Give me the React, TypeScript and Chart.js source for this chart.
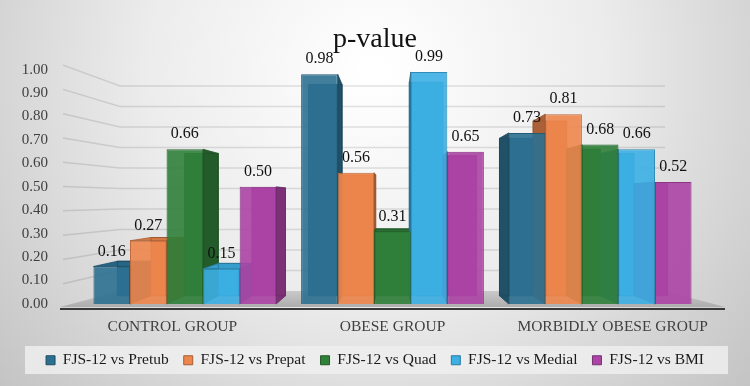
import { useEffect, useRef } from "react";
import { Chart, registerables } from "chart.js";

Chart.register(...registerables);

// ---- data ----
const groups = ["CONTROL GROUP", "OBESE GROUP", "MORBIDLY OBESE GROUP"];
const seriesNames = [
  "FJS-12 vs Pretub",
  "FJS-12 vs Prepat",
  "FJS-12 vs Quad",
  "FJS-12 vs Medial",
  "FJS-12 vs BMI",
];
const pretub = [0.16, 0.98, 0.73];
const prepat = [0.27, 0.56, 0.81];
const quad = [0.66, 0.31, 0.68];
const medial = [0.15, 0.99, 0.66];
const bmi = [0.5, 0.65, 0.52];
const seriesValues = [pretub, prepat, quad, medial, bmi];
const seriesRgb: number[][] = [
  [44, 112, 145],
  [237, 134, 76],
  [48, 128, 58],
  [60, 175, 228],
  [172, 68, 165],
];
const yMin = 0;
const yMax = 1;
const yStep = 0.1;

// ---- styling helpers ----
const SERIF = '"Liberation Serif", "Times New Roman", serif';
const DEPTH = 0.08; // how far a bar's back face recedes toward the vanishing point
const WALL = 0.875; // back wall scale relative to the plot rectangle

const rgb = (c: number[], f = 1, a = 1) =>
  `rgba(${c.map((v) => Math.max(0, Math.min(255, Math.round(v * f)))).join(",")},${a})`;

function vanishing(chart: any) {
  const a = chart.chartArea;
  return { vx: (a.left + a.right) / 2, vy: a.top + 0.56 * (a.bottom - a.top) };
}

const stagePlugin = {
  id: "stage3d",
  beforeDraw(chart: any) {
    const { ctx, width, height } = chart;
    ctx.save();
    const g = ctx.createRadialGradient(width / 2, 70, 10, width / 2, 70, 560);
    g.addColorStop(0, "#ffffff");
    g.addColorStop(0.4, "#ececec");
    g.addColorStop(1, "#b9b9b9");
    ctx.fillStyle = g;
    ctx.fillRect(0, 0, width, height);

    // legend panel
    const lg = chart.legend;
    if (lg) {
      ctx.fillStyle = "rgba(238,238,238,0.85)";
      ctx.fillRect(25, lg.top + 8.5, width - 47, 28);
    }
    ctx.restore();
  },
  beforeDatasetsDraw(chart: any) {
    const { ctx, chartArea: a, scales } = chart;
    const y = scales.y;
    const { vx, vy } = vanishing(chart);
    const backX = (x: number) => vx + (x - vx) * WALL;
    const backY = (yy: number) => vy + (yy - vy) * WALL;
    const y0 = y.getPixelForValue(0);

    ctx.save();
    // grid lines on the back wall and the left side wall
    ctx.strokeStyle = "rgba(0,0,0,0.11)";
    ctx.lineWidth = 1.5;
    for (let k = 1; k * yStep <= yMax + 1e-9; k++) {
      const v = k * yStep;
      const py = y.getPixelForValue(v);
      const by = backY(py);
      const fy = py + 4 - 8.5 * v;
      ctx.beginPath();
      ctx.moveTo(a.left - 18, fy);
      ctx.lineTo(backX(a.left), by);
      ctx.lineTo(backX(a.right), by);
      ctx.stroke();
    }

    // floor
    const fl = a.left - 21;
    const fr = a.right + 21;
    const ff = y0 + 3;
    const fb = backY(y0);
    const fg = ctx.createLinearGradient(0, fb, 0, ff);
    fg.addColorStop(0, "#c9c9c9");
    fg.addColorStop(1, "#adadad");
    ctx.fillStyle = fg;
    ctx.beginPath();
    ctx.moveTo(fl, ff);
    ctx.lineTo(fr, ff);
    ctx.lineTo(backX(a.right), fb);
    ctx.lineTo(backX(a.left), fb);
    ctx.closePath();
    ctx.fill();

    // axis line along the front of the floor
    ctx.strokeStyle = "#383838";
    ctx.lineWidth = 2.2;
    ctx.beginPath();
    ctx.moveTo(fl, y0 + 5);
    ctx.lineTo(fr, y0 + 5);
    ctx.stroke();

    // back, side and top faces of every bar (fronts are drawn by Chart.js)
    const bk = (px: number, py: number) => [px + (vx - px) * DEPTH, py + (vy - py) * DEPTH];
    chart.data.datasets.forEach((ds: any, i: number) => {
      const meta = chart.getDatasetMeta(i);
      if (meta.hidden) return;
      const c = seriesRgb[i];
      meta.data.forEach((bar: any) => {
        const { x, y: top, base, width } = bar.getProps(["x", "y", "base", "width"], true);
        const x0 = x - width / 2;
        const x1 = x + width / 2;
        const [bx0, bt] = bk(x0, top);
        const [bx1] = bk(x1, top);
        const [, bb] = bk(x0, base);
        // back face
        ctx.fillStyle = rgb(c, 0.9);
        ctx.fillRect(bx0, bt, bx1 - bx0, bb - bt);
        // side face
        const sx = x < vx ? x1 : x0;
        const [sbx, sbt] = bk(sx, top);
        const [, sbb] = bk(sx, base);
        ctx.fillStyle = rgb(c, 0.72);
        ctx.beginPath();
        ctx.moveTo(sx, top);
        ctx.lineTo(sbx, sbt);
        ctx.lineTo(sbx, sbb);
        ctx.lineTo(sx, base);
        ctx.closePath();
        ctx.fill();
        ctx.strokeStyle = rgb(c, 0.6, 0.8);
        ctx.lineWidth = 1;
        ctx.stroke();
        // top face, visible only below the eye line
        if (top > vy) {
          const [tx0, tt0] = bk(x0, top);
          const [tx1, tt1] = bk(x1, top);
          ctx.fillStyle = rgb(c, 0.9);
          ctx.beginPath();
          ctx.moveTo(x0, top);
          ctx.lineTo(x1, top);
          ctx.lineTo(tx1, tt1);
          ctx.lineTo(tx0, tt0);
          ctx.closePath();
          ctx.fill();
          ctx.strokeStyle = rgb(c, 0.7, 0.8);
          ctx.stroke();
        }
        // back edges, seen through the glassy front
        ctx.strokeStyle = rgb(c, 0.65, 0.8);
        ctx.lineWidth = 1;
        ctx.strokeRect(bx0, bt, bx1 - bx0, bb - bt);
      });
    });
    ctx.restore();
  },
  afterDatasetsDraw(chart: any) {
    const { ctx, chartArea: a, scales } = chart;
    const { vx } = vanishing(chart);
    ctx.save();
    // value labels
    ctx.font = `16px ${SERIF}`;
    ctx.fillStyle = "#111111";
    ctx.textAlign = "center";
    ctx.textBaseline = "middle";
    chart.data.datasets.forEach((ds: any, i: number) => {
      const meta = chart.getDatasetMeta(i);
      if (meta.hidden) return;
      meta.data.forEach((bar: any, j: number) => {
        const v = ds.data[j] as number;
        ctx.fillText(v.toFixed(2), bar.x, bar.y - 15);
      });
    });
    // category labels along the front edge of the floor
    ctx.font = `15.5px ${SERIF}`;
    ctx.fillStyle = "#404040";
    const xs = scales.x;
    chart.data.labels.forEach((lab: string, j: number) => {
      const px = xs.getPixelForValue(j);
      ctx.fillText(lab, vx + (px - vx) * 1.06, a.bottom + 23);
    });
    ctx.restore();
  },
};

export default function App() {
  const ref = useRef<HTMLCanvasElement | null>(null);

  useEffect(() => {
    document.body.style.margin = "0";
    const canvas = ref.current;
    if (!canvas) return;
    const chart = new Chart(canvas, {
      type: "bar",
      data: {
        labels: groups,
        datasets: seriesNames.map((name, i) => ({
          label: name,
          data: seriesValues[i],
          backgroundColor: rgb(seriesRgb[i], 1, 0.9),
          borderColor: rgb(seriesRgb[i], 0.8),
          borderWidth: 1,
          barPercentage: 1,
          categoryPercentage: 0.88,
        })),
      },
      options: {
        responsive: false,
        animation: false,
        layout: { padding: { top: 6, left: 0, right: 0, bottom: 8 } },
        plugins: {
          title: {
            display: true,
            text: "p-value",
            color: "#111111",
            font: { family: SERIF, size: 28, weight: "normal" },
            padding: { top: 17, bottom: 13 },
          },
          legend: {
            position: "bottom",
            labels: {
              color: "#1a1a1a",
              font: { family: SERIF, size: 15.5 },
              boxWidth: 9,
              boxHeight: 9,
              padding: 15,
              generateLabels: (ch: any) =>
                ch.data.datasets.map((ds: any, i: number) => ({
                  text: ds.label,
                  fillStyle: rgb(seriesRgb[i]),
                  strokeStyle: rgb(seriesRgb[i], 0.7),
                  lineWidth: 1,
                  hidden: !ch.isDatasetVisible(i),
                  datasetIndex: i,
                  fontColor: "#1a1a1a",
                })),
            },
          },
          tooltip: { enabled: false },
        },
        scales: {
          x: {
            grid: { display: false, drawTicks: false },
            border: { display: false },
            ticks: { display: false },
            afterFit: (s: any) => {
              s.height = 33.5;
            },
          },
          y: {
            min: yMin,
            max: yMax,
            grid: { display: false, drawTicks: false },
            border: { display: false },
            ticks: {
              stepSize: yStep,
              autoSkip: false,
              padding: 33,
              color: "#404040",
              font: { family: SERIF, size: 15 },
              callback: (v: any) => Number(v).toFixed(2),
            },
            afterFit: (s: any) => {
              s.width = 81;
            },
          },
          // empty right-hand gutter beside the floor
          yRight: {
            position: "right",
            min: yMin,
            max: yMax,
            grid: { display: false, drawTicks: false },
            border: { display: false },
            ticks: { display: false },
            afterFit: (s: any) => {
              s.width = 46;
            },
          },
        },
      },
      plugins: [stagePlugin],
    });
    return () => chart.destroy();
  }, []);

  return (
    <div style={{ width: 750, height: 386 }}>
      <canvas ref={ref} width={750} height={386} />
    </div>
  );
}
